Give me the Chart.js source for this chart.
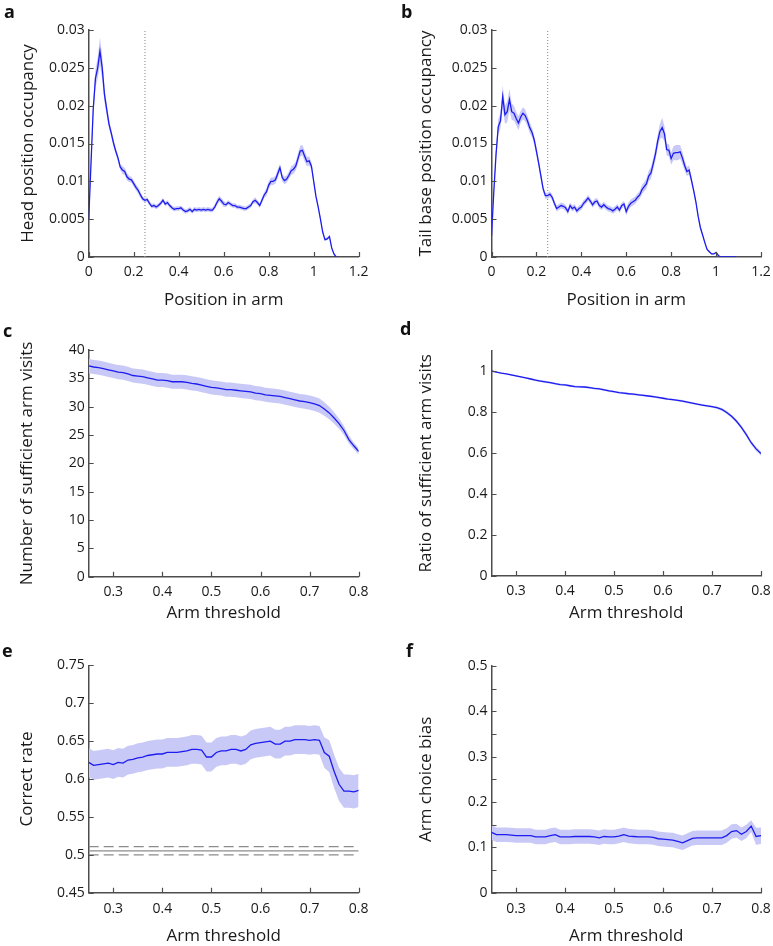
<!DOCTYPE html>
<html lang="en">
  <head>
    <meta charset="UTF-8" />
    <title>Arm occupancy and threshold analysis</title>
    <style>
      body {
        margin: 0;
        background: #fff;
        font-family: "Open Sans", sans-serif;
      }
      .fig {
        position: relative;
        width: 773px;
        height: 946px;
        overflow: hidden;
      }
      .fig canvas {
        position: absolute;
      }
      .tag {
        position: absolute;
        font-weight: bold;
        font-size: 18px;
        line-height: 18px;
        color: #111;
      }
    </style>
  </head>
  <body>
    <div class="fig">
      <canvas id="chartA"></canvas>
      <canvas id="chartB"></canvas>
      <canvas id="chartC"></canvas>
      <canvas id="chartD"></canvas>
      <canvas id="chartE"></canvas>
      <canvas id="chartF"></canvas>
      <div class="tag" style="left: 4px; top: 2px">a</div>
      <div class="tag" style="left: 401px; top: 2px">b</div>
      <div class="tag" style="left: 3px; top: 321px">c</div>
      <div class="tag" style="left: 400px; top: 319px">d</div>
      <div class="tag" style="left: 2px; top: 641px">e</div>
      <div class="tag" style="left: 406px; top: 641px">f</div>
    </div>

    <script src="https://cdn.jsdelivr.net/npm/chart.js"></script>
    <script>
      // position in arm (0 .. 1.10)
      const positions = [
        0, 0.01, 0.02, 0.03, 0.04, 0.05, 0.06, 0.07, 0.08, 0.09,
        0.1, 0.11, 0.12, 0.13, 0.14, 0.15, 0.16, 0.17, 0.18, 0.19,
        0.2, 0.21, 0.22, 0.23, 0.24, 0.25, 0.26, 0.27, 0.28, 0.29,
        0.3, 0.31, 0.32, 0.33, 0.34, 0.35, 0.36, 0.37, 0.38, 0.39,
        0.4, 0.41, 0.42, 0.43, 0.44, 0.45, 0.46, 0.47, 0.48, 0.49,
        0.5, 0.51, 0.52, 0.53, 0.54, 0.55, 0.56, 0.57, 0.58, 0.59,
        0.6, 0.61, 0.62, 0.63, 0.64, 0.65, 0.66, 0.67, 0.68, 0.69,
        0.7, 0.71, 0.72, 0.73, 0.74, 0.75, 0.76, 0.77, 0.78, 0.79,
        0.8, 0.81, 0.82, 0.83, 0.84, 0.85, 0.86, 0.87, 0.88, 0.89,
        0.9, 0.91, 0.92, 0.93, 0.94, 0.95, 0.96, 0.97, 0.98, 0.99,
        1.0, 1.01, 1.02, 1.03, 1.04, 1.05, 1.06, 1.07, 1.08, 1.09,
        1.1,
      ];

      const headOcc = [
        0.005, 0.0122, 0.0195, 0.0236, 0.025, 0.0272, 0.025, 0.0215, 0.0195, 0.0176,
        0.0164, 0.0151, 0.014, 0.0131, 0.0119, 0.0115, 0.0113, 0.0106, 0.0103, 0.0102,
        0.0097, 0.0092, 0.0088, 0.0082, 0.0077, 0.0075, 0.0076, 0.0071, 0.0067, 0.0068,
        0.0066, 0.0068, 0.0071, 0.0075, 0.007, 0.0072, 0.0068, 0.0065, 0.0063, 0.0064,
        0.0064, 0.0065, 0.0062, 0.006, 0.0061, 0.0063, 0.006, 0.0063, 0.0062, 0.0063,
        0.0062, 0.0063, 0.0062, 0.0063, 0.0062, 0.0062, 0.0066, 0.0072, 0.0077, 0.0074,
        0.007, 0.0069, 0.0072, 0.007, 0.0068, 0.0068, 0.0066, 0.0066, 0.0065, 0.0064,
        0.0064, 0.0066, 0.0068, 0.0073, 0.0075, 0.0072, 0.0068, 0.0075, 0.0082, 0.0086,
        0.0095, 0.01, 0.01, 0.0102, 0.011, 0.0118, 0.0105, 0.0101, 0.0103, 0.0108,
        0.0114, 0.0116, 0.012, 0.013, 0.014, 0.0141, 0.0133, 0.0126, 0.0127, 0.012,
        0.01, 0.008, 0.0066, 0.005, 0.0033, 0.0023, 0.0024, 0.0027, 0.0012, 0.0004,
        0,
      ];
      const headSem = [
        0.0003, 0.0008, 0.001, 0.0012, 0.0014, 0.0018, 0.0016, 0.001, 0.0008, 0.0006,
        0.0005, 0.0005, 0.0004, 0.0004, 0.0004, 0.0005, 0.0005, 0.0005, 0.0004, 0.0004,
        0.0004, 0.0004, 0.0004, 0.0004, 0.0003, 0.0003, 0.0003, 0.0003, 0.0003, 0.0003,
        0.0003, 0.0003, 0.0003, 0.0003, 0.0003, 0.0003, 0.0003, 0.0003, 0.0003, 0.0003,
        0.0003, 0.0003, 0.0003, 0.0003, 0.0003, 0.0003, 0.0003, 0.0003, 0.0003, 0.0003,
        0.0003, 0.0003, 0.0003, 0.0003, 0.0003, 0.0003, 0.0003, 0.0004, 0.0004, 0.0004,
        0.0004, 0.0003, 0.0003, 0.0003, 0.0003, 0.0003, 0.0003, 0.0003, 0.0003, 0.0003,
        0.0003, 0.0003, 0.0003, 0.0003, 0.0004, 0.0003, 0.0003, 0.0004, 0.0004, 0.0005,
        0.0005, 0.0005, 0.0005, 0.0005, 0.0006, 0.0005, 0.0005, 0.0005, 0.0005, 0.0005,
        0.0006, 0.0006, 0.0006, 0.0007, 0.0007, 0.0007, 0.0007, 0.0006, 0.0006, 0.0005,
        0.0004, 0.0003, 0.0003, 0.0003, 0.0002, 0.0002, 0.0002, 0.0002, 0.0002, 0.0001,
        0,
      ];

      const tailOcc = [
        0.0028, 0.0085, 0.0135, 0.0172, 0.018, 0.0212, 0.0188, 0.0192, 0.0208, 0.0192,
        0.019, 0.0183, 0.0177, 0.0185, 0.019, 0.0187, 0.018, 0.0171, 0.0165, 0.0155,
        0.014, 0.0124, 0.0107, 0.009, 0.0081, 0.0081, 0.0083, 0.0079, 0.0071, 0.0064,
        0.0066, 0.0068, 0.0067, 0.0065, 0.006, 0.0068, 0.0064, 0.0066, 0.0061, 0.0064,
        0.0066, 0.0071, 0.0074, 0.0078, 0.0074, 0.0069, 0.0073, 0.0074, 0.0068, 0.0066,
        0.0069, 0.0066, 0.0064, 0.0063, 0.0061, 0.0063, 0.0066, 0.0062, 0.0068, 0.007,
        0.006, 0.0067, 0.0071, 0.0073, 0.0075, 0.0079, 0.0082, 0.0089, 0.0093, 0.0097,
        0.0107, 0.0111, 0.0123, 0.0136, 0.0153, 0.0166, 0.0171, 0.0163, 0.0142, 0.0141,
        0.013, 0.0137, 0.0138, 0.0138, 0.0139, 0.0131, 0.0121, 0.0113, 0.0115, 0.0102,
        0.0088, 0.0073, 0.0054, 0.0039, 0.0029, 0.0019, 0.001, 0.0007, 0.0004, 0.0004,
        0.0006, 0.0002, 0, 0, 0, 0, 0, 0, 0, 0,
      ];
      const tailSem = [
        0.0003, 0.0006, 0.0008, 0.001, 0.001, 0.0015, 0.0012, 0.0014, 0.0014, 0.0011,
        0.001, 0.0009, 0.0009, 0.0008, 0.0008, 0.0008, 0.0007, 0.0007, 0.0006, 0.0006,
        0.0006, 0.0005, 0.0005, 0.0004, 0.0004, 0.0004, 0.0004, 0.0004, 0.0004, 0.0004,
        0.0004, 0.0004, 0.0004, 0.0004, 0.0004, 0.0004, 0.0004, 0.0004, 0.0004, 0.0004,
        0.0004, 0.0004, 0.0004, 0.0004, 0.0004, 0.0004, 0.0004, 0.0004, 0.0004, 0.0004,
        0.0004, 0.0004, 0.0004, 0.0004, 0.0004, 0.0004, 0.0004, 0.0004, 0.0004, 0.0004,
        0.0005, 0.0005, 0.0005, 0.0005, 0.0005, 0.0005, 0.0005, 0.0006, 0.0006, 0.0007,
        0.0007, 0.0008, 0.0008, 0.0008, 0.0009, 0.001, 0.0013, 0.001, 0.0008, 0.0008,
        0.0008, 0.0009, 0.001, 0.001, 0.0009, 0.0008, 0.0007, 0.0006, 0.0006, 0.0005,
        0.0004, 0.0004, 0.0003, 0.0003, 0.0002, 0.0002, 0.0002, 0.0001, 0.0001, 0.0001,
        0.0001, 0.0001, 0, 0, 0, 0, 0, 0, 0, 0,
      ];
      const armCutoff = [0.25];

      // arm threshold (0.25 .. 0.80)
      const thresholds = [
        0.25, 0.26, 0.27, 0.28, 0.29, 0.3, 0.31, 0.32, 0.33, 0.34,
        0.35, 0.36, 0.37, 0.38, 0.39, 0.4, 0.41, 0.42, 0.43, 0.44,
        0.45, 0.46, 0.47, 0.48, 0.49, 0.5, 0.51, 0.52, 0.53, 0.54,
        0.55, 0.56, 0.57, 0.58, 0.59, 0.6, 0.61, 0.62, 0.63, 0.64,
        0.65, 0.66, 0.67, 0.68, 0.69, 0.7, 0.71, 0.72, 0.73, 0.74,
        0.75, 0.76, 0.77, 0.78, 0.79, 0.8,
      ];

      const visits = [
        37.2, 37.0, 36.9, 36.7, 36.5, 36.3, 36.1, 36.0, 35.8, 35.5,
        35.4, 35.3, 35.1, 34.9, 34.7, 34.7, 34.6, 34.4, 34.4, 34.4,
        34.3, 34.1, 34.0, 33.8, 33.6, 33.4, 33.3, 33.2, 33.0, 33.0,
        32.9, 32.8, 32.7, 32.6, 32.4, 32.3, 32.1, 32.0, 31.9, 31.8,
        31.6, 31.4, 31.2, 31.0, 30.9, 30.7, 30.5, 30.2, 29.6, 28.9,
        28.0, 27.0, 25.8, 24.2, 23.1, 22.1,
      ];
      const visitsSem = [
        1.25, 1.25, 1.25, 1.25, 1.25, 1.25, 1.25, 1.25, 1.25, 1.25,
        1.25, 1.25, 1.25, 1.25, 1.25, 1.25, 1.25, 1.25, 1.25, 1.25,
        1.25, 1.25, 1.25, 1.25, 1.25, 1.25, 1.25, 1.25, 1.25, 1.25,
        1.25, 1.25, 1.25, 1.25, 1.25, 1.25, 1.25, 1.25, 1.25, 1.25,
        1.25, 1.25, 1.25, 1.25, 1.25, 1.25, 1.25, 1.25, 1.2, 1.1,
        1.0, 0.9, 0.8, 0.7, 0.6, 0.6,
      ];

      const visitRatio = [
        1.0, 0.995, 0.99, 0.986, 0.981, 0.976, 0.971, 0.966, 0.961, 0.955,
        0.951, 0.947, 0.943, 0.938, 0.934, 0.932, 0.928, 0.924, 0.923, 0.922,
        0.919, 0.915, 0.913, 0.908, 0.903, 0.899, 0.895, 0.892, 0.889, 0.887,
        0.884, 0.881, 0.878, 0.875, 0.871, 0.867, 0.863, 0.86, 0.857, 0.853,
        0.848, 0.843, 0.838, 0.834, 0.83, 0.826, 0.821, 0.813, 0.798, 0.779,
        0.755, 0.725, 0.69, 0.65, 0.62, 0.597,
      ];
      const ratioSem = [
        0.001, 0.002, 0.003, 0.003, 0.004, 0.004, 0.004, 0.004, 0.005, 0.005,
        0.005, 0.005, 0.005, 0.005, 0.005, 0.005, 0.005, 0.005, 0.005, 0.005,
        0.005, 0.005, 0.005, 0.005, 0.005, 0.005, 0.005, 0.005, 0.005, 0.005,
        0.005, 0.005, 0.005, 0.005, 0.005, 0.005, 0.005, 0.005, 0.005, 0.005,
        0.005, 0.005, 0.005, 0.005, 0.005, 0.005, 0.006, 0.007, 0.008, 0.008,
        0.009, 0.009, 0.01, 0.01, 0.01, 0.01,
      ];

      const correctRate = [
        0.622, 0.618, 0.619, 0.62, 0.621, 0.619, 0.622, 0.621, 0.625, 0.626,
        0.628, 0.629, 0.631, 0.632, 0.633, 0.633, 0.635, 0.635, 0.635, 0.636,
        0.637, 0.639, 0.639, 0.638, 0.629, 0.629, 0.635, 0.637, 0.637, 0.639,
        0.639, 0.637, 0.639, 0.645, 0.647, 0.648, 0.649, 0.65, 0.646, 0.646,
        0.65, 0.65, 0.652, 0.652, 0.652, 0.651, 0.652, 0.651, 0.635, 0.63,
        0.61, 0.593, 0.584, 0.584, 0.583, 0.585,
      ];
      const correctSem = [
        0.019, 0.019, 0.019, 0.019, 0.019, 0.019, 0.019, 0.019, 0.019, 0.019,
        0.019, 0.019, 0.019, 0.019, 0.019, 0.019, 0.019, 0.019, 0.019, 0.019,
        0.019, 0.019, 0.019, 0.019, 0.019, 0.019, 0.019, 0.019, 0.019, 0.019,
        0.019, 0.019, 0.019, 0.019, 0.019, 0.019, 0.019, 0.019, 0.019, 0.019,
        0.019, 0.019, 0.019, 0.019, 0.019, 0.019, 0.019, 0.019, 0.02, 0.021,
        0.022, 0.022, 0.022, 0.022, 0.022, 0.022,
      ];
      // chance level (solid) and its bounds (dashed)
      const chanceLevel = [0.5053];
      const chanceBounds = [0.4998, 0.5108];

      const choiceBias = [
        0.133, 0.128, 0.128, 0.128, 0.127, 0.126, 0.126, 0.126, 0.126, 0.123,
        0.123, 0.123, 0.126, 0.128, 0.123, 0.123, 0.123, 0.124, 0.124, 0.124,
        0.124, 0.123, 0.121, 0.124, 0.123, 0.123, 0.125, 0.128, 0.125, 0.124,
        0.123, 0.123, 0.123, 0.122, 0.119, 0.118, 0.117, 0.116, 0.113, 0.11,
        0.115, 0.12, 0.121, 0.121, 0.121, 0.121, 0.121, 0.121, 0.126, 0.135,
        0.137, 0.129, 0.135, 0.147, 0.124, 0.126,
      ];
      const biasSem = [
        0.016, 0.016, 0.016, 0.016, 0.016, 0.016, 0.016, 0.016, 0.016, 0.016,
        0.016, 0.016, 0.016, 0.016, 0.016, 0.016, 0.016, 0.016, 0.016, 0.016,
        0.016, 0.016, 0.016, 0.016, 0.016, 0.016, 0.016, 0.016, 0.016, 0.016,
        0.016, 0.016, 0.016, 0.016, 0.016, 0.016, 0.016, 0.016, 0.016, 0.016,
        0.016, 0.016, 0.016, 0.016, 0.016, 0.016, 0.016, 0.016, 0.016, 0.016,
        0.015, 0.015, 0.015, 0.013, 0.019, 0.018,
      ];

      // tick values / labels
      const posTicks = [0, 0.2, 0.4, 0.6, 0.8, 1, 1.2];
      const occTicks = [0, 0.005, 0.01, 0.015, 0.02, 0.025, 0.03];
      const thrTicks = [0.3, 0.4, 0.5, 0.6, 0.7, 0.8];
      const visitTicks = [0, 5, 10, 15, 20, 25, 30, 35, 40];
      const ratioTicks = [0, 0.2, 0.4, 0.6, 0.8, 1];
      const rateTicks = [0.45, 0.5, 0.55, 0.6, 0.65, 0.7, 0.75];
      const biasTicks = [0, 0.05, 0.1, 0.15, 0.2, 0.25, 0.3, 0.35, 0.4, 0.45, 0.5];
      const biasTickLabels = ["0", "", "0.1", "", "0.2", "", "0.3", "", "0.4", "", "0.5"];

      const LINE = "#1c1cf0";
      const BAND = "#c9c9f7";
      const AXIS = "#4d4d4d";
      const TEXT = "#1a1a1a";
      const REF = "#8c8c8c";
      const TITLE_SIZE = 17;
      const LH = TITLE_SIZE * 1.2;

      Chart.defaults.font.family = "'Open Sans', sans-serif";
      Chart.defaults.color = TEXT;

      const innerTicks = {
        id: "innerTicks",
        afterDatasetsDraw(chart) {
          const { ctx, chartArea: a, scales } = chart;
          ctx.save();
          ctx.strokeStyle = AXIS;
          ctx.lineWidth = 1.2;
          ctx.beginPath();
          scales.x.ticks.forEach((t) => {
            const p = Math.round(scales.x.getPixelForValue(t.value)) + 0.5;
            ctx.moveTo(p, a.bottom);
            ctx.lineTo(p, a.bottom - 5);
          });
          scales.y.ticks.forEach((t) => {
            const p = Math.round(scales.y.getPixelForValue(t.value)) + 0.5;
            ctx.moveTo(a.left, p);
            ctx.lineTo(a.left + 5, p);
          });
          ctx.stroke();
          ctx.restore();
        },
      };

      function bandSets(xs, mean, sem) {
        const pick = (f) => mean.map((m, i) => ({ x: xs[i], y: f(m, sem[i]) }));
        const hidden = { borderColor: "rgba(0,0,0,0)", borderWidth: 0, pointRadius: 0 };
        return [
          { data: pick((m) => m), borderColor: LINE, borderWidth: 1.3, pointRadius: 0, fill: false },
          { ...hidden, data: pick((m, s) => m - s), fill: false },
          { ...hidden, data: pick((m, s) => m + s), fill: "-1", backgroundColor: BAND },
        ];
      }

      function refLine(points, dash, color) {
        return {
          data: points,
          borderColor: color,
          borderWidth: dash ? 1.2 : 1.3,
          borderDash: dash || [],
          pointRadius: 0,
          fill: false,
        };
      }

      function axis(range, ticks, labels, title, extra) {
        return {
          type: "linear",
          min: range[0],
          max: range[1],
          afterBuildTicks: (s) => {
            s.ticks = ticks.map((v) => ({ value: v }));
          },
          ticks: {
            autoSkip: false,
            maxRotation: 0,
            padding: extra.pad,
            font: { size: 14 },
            color: TEXT,
            callback: (v, i) => (labels ? labels[i] : String(v)),
          },
          grid: { display: false, drawTicks: false },
          border: { display: true, color: AXIS, width: 1.5 },
          title: { display: true, text: title, font: { size: TITLE_SIZE }, padding: 0, color: TEXT },
          afterFit: extra.fit,
        };
      }

      function panel(id, box, area, titleX, titleY, spec) {
        const canvas = document.getElementById(id);
        canvas.width = box.w;
        canvas.height = box.h;
        canvas.style.left = box.x + "px";
        canvas.style.top = box.y + "px";

        const padLeft = titleX - LH / 2 - box.x;
        const yWidth = area.l - box.x - padLeft;
        const padBottom = box.y + box.h - (titleY + LH / 2);
        const xHeight = titleY + LH / 2 - area.b;

        new Chart(canvas, {
          type: "line",
          data: { datasets: spec.datasets },
          options: {
            responsive: false,
            animation: false,
            events: [],
            layout: {
              padding: {
                left: padLeft,
                top: area.t - box.y,
                right: box.x + box.w - area.r,
                bottom: padBottom,
              },
            },
            plugins: { legend: { display: false }, tooltip: { enabled: false } },
            scales: {
              x: axis(spec.xRange, spec.xTicks, null, spec.xTitle, {
                pad: spec.xPad,
                fit: (s) => {
                  s.height = xHeight;
                  s.paddingLeft = 0;
                  s.paddingRight = 0;
                },
              }),
              y: axis(spec.yRange, spec.yTicks, spec.yLabels, spec.yTitle, {
                pad: 4,
                fit: (s) => {
                  s.width = yWidth;
                  s.paddingTop = 0;
                  s.paddingBottom = 0;
                },
              }),
            },
          },
          plugins: [innerTicks],
        });
      }

      const occRange = [0, 0.03];
      const cutoffLine = [
        { x: armCutoff[0], y: occRange[0] },
        { x: armCutoff[0], y: occRange[1] },
      ];

      panel("chartA", { x: 0, y: 0, w: 386, h: 312 }, { l: 88.7, t: 30, r: 358.7, b: 257 }, 28, 300, {
        datasets: [...bandSets(positions, headOcc, headSem), refLine(cutoffLine, [1, 2], "#999")],
        xRange: [0, 1.2], xTicks: posTicks, xTitle: "Position in arm", xPad: 7,
        yRange: occRange, yTicks: occTicks, yTitle: "Head position occupancy",
      });

      panel("chartB", { x: 386, y: 0, w: 387, h: 312 }, { l: 491.5, t: 30, r: 761, b: 257 }, 426, 300, {
        datasets: [...bandSets(positions, tailOcc, tailSem), refLine(cutoffLine, [1, 2], "#999")],
        xRange: [0, 1.2], xTicks: posTicks, xTitle: "Position in arm", xPad: 7,
        yRange: occRange, yTicks: occTicks, yTitle: "Tail base position occupancy",
      });

      panel("chartC", { x: 0, y: 312, w: 386, h: 312 }, { l: 88.7, t: 350, r: 358.7, b: 576.7 }, 27, 613, {
        datasets: bandSets(thresholds, visits, visitsSem),
        xRange: [0.25, 0.8], xTicks: thrTicks, xTitle: "Arm threshold", xPad: 7,
        yRange: [0, 40], yTicks: visitTicks, yTitle: "Number of sufficient arm visits",
      });

      panel("chartD", { x: 386, y: 312, w: 387, h: 312 }, { l: 491.5, t: 350.5, r: 761, b: 576 }, 426, 613, {
        datasets: bandSets(thresholds, visitRatio, ratioSem),
        xRange: [0.25, 0.8], xTicks: thrTicks, xTitle: "Arm threshold", xPad: 7,
        yRange: [0, 1.1], yTicks: ratioTicks, yTitle: "Ratio of sufficient arm visits",
      });

      const thrSpan = [thresholds[0], thresholds[thresholds.length - 1]];
      const hLine = (v) => thrSpan.map((x) => ({ x, y: v }));

      panel("chartE", { x: 0, y: 624, w: 386, h: 324 }, { l: 88.7, t: 665.3, r: 358.7, b: 892.7 }, 27, 936, {
        datasets: [
          ...bandSets(thresholds, correctRate, correctSem),
          refLine(hLine(chanceLevel[0]), null, REF),
          refLine(hLine(chanceBounds[0]), [10, 5], REF),
          refLine(hLine(chanceBounds[1]), [10, 5], REF),
        ],
        xRange: [0.25, 0.8], xTicks: thrTicks, xTitle: "Arm threshold", xPad: 8,
        yRange: [0.45, 0.75], yTicks: rateTicks, yTitle: "Correct rate",
      });

      panel("chartF", { x: 386, y: 624, w: 387, h: 324 }, { l: 491.5, t: 666, r: 761, b: 892.7 }, 426, 936, {
        datasets: bandSets(thresholds, choiceBias, biasSem),
        xRange: [0.25, 0.8], xTicks: thrTicks, xTitle: "Arm threshold", xPad: 8,
        yRange: [0, 0.5], yTicks: biasTicks, yLabels: biasTickLabels, yTitle: "Arm choice bias",
      });
    </script>
  </body>
</html>
